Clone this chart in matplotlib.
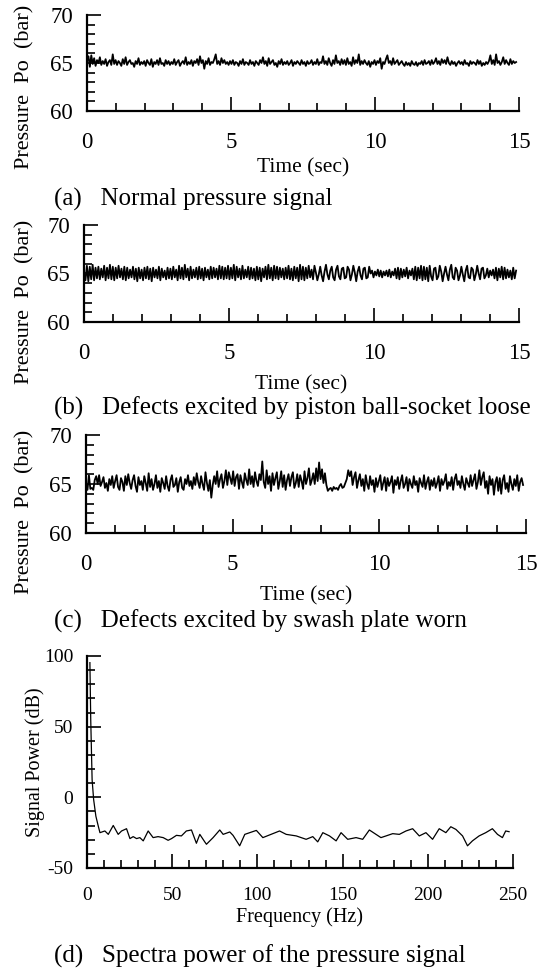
import numpy as np
import matplotlib
matplotlib.use("Agg")
import matplotlib.pyplot as plt
from matplotlib.ticker import MultipleLocator

plt.rcParams['font.family'] = ['Liberation Serif', 'DejaVu Serif']
plt.rcParams['axes.unicode_minus'] = False

# Outlet pressure Po (bar), one reading every 0.05 s
normal_po = [
    65.2, 65.7, 64.6, 65.8, 64.9, 65.5, 64.7, 65.3, 65.0, 65.6, 64.8, 65.2, 64.9, 65.4, 64.7, 65.1, 65.3, 64.8, 65.9, 64.9,
    65.3, 64.8, 65.2, 65.0, 64.7, 65.4, 64.9, 65.6, 64.8, 65.1, 65.3, 64.9, 65.0, 64.6, 65.2, 64.9, 65.5, 64.8, 65.1, 64.9,
    65.2, 64.7, 65.3, 65.0, 64.8, 65.4, 64.6, 65.1, 64.9, 65.3, 64.8, 65.5, 64.9, 65.0, 64.7, 65.3, 64.9, 65.2, 64.8, 65.1,
    64.9, 65.4, 64.8, 65.1, 65.3, 64.7, 65.0, 65.2, 64.9, 65.6, 64.8, 65.1, 64.9, 65.3, 64.7, 65.2, 65.0, 65.4, 64.8, 65.7,
    65.0, 65.3, 64.4, 65.2, 64.9, 65.5, 64.8, 65.1, 65.0, 65.4, 65.9, 64.9, 65.2, 64.8, 65.5, 65.0, 65.3, 64.9, 65.1, 64.8,
    65.2, 64.9, 65.3, 64.8, 65.1, 65.0, 64.7, 65.2, 64.9, 65.4, 64.8, 65.1, 65.0, 64.8, 65.3, 64.9, 65.1, 64.7, 65.2, 65.0,
    64.8, 65.3, 65.0, 65.6, 64.9, 65.2, 64.7, 65.5, 64.9, 65.1, 65.3, 64.8, 65.0, 64.6, 65.2, 64.9, 65.4, 64.8, 65.1, 64.9,
    65.2, 64.8, 65.0, 65.3, 64.7, 65.1, 64.9, 65.2, 65.0, 64.8, 65.3, 64.9, 65.1, 64.7, 65.2, 64.9, 65.0, 65.3, 64.8, 65.1,
    64.9, 65.4, 64.8, 65.1, 65.0, 65.7, 64.9, 65.2, 64.8, 65.5, 65.0, 64.7, 65.3, 64.9, 65.8, 65.0, 65.2, 64.8, 65.4, 64.9,
    65.3, 64.8, 65.5, 64.9, 65.1, 64.7, 65.6, 64.9, 65.3, 65.0, 65.9, 64.8, 65.2, 64.9, 65.3, 65.0, 64.8, 65.2, 64.6, 65.1,
    64.9, 65.3, 64.8, 65.2, 65.0, 65.5, 64.4, 65.1, 64.9, 65.4, 65.8, 65.0, 65.2, 64.8, 65.5, 64.9, 65.1, 65.3, 64.8, 65.0,
    65.2, 64.9, 64.7, 65.1, 64.8, 65.0, 64.7, 65.2, 64.9, 64.8, 65.1, 64.7, 65.0, 64.9, 65.2, 64.8, 65.3, 64.9, 65.0, 65.2,
    64.8, 65.3, 64.9, 65.1, 65.5, 64.9, 65.2, 64.8, 65.4, 65.0, 65.3, 64.9, 65.6, 65.0, 64.8, 65.2, 64.9, 65.1, 64.7, 65.0,
    65.2, 64.9, 65.1, 64.8, 65.3, 64.9, 65.0, 64.7, 65.2, 64.9, 65.1, 65.0, 64.8, 65.3, 64.9, 65.2, 64.7, 65.0, 64.8, 65.1,
    64.9, 65.2, 65.8, 64.9, 65.3, 64.8, 65.9, 65.0, 65.2, 64.8, 65.1, 65.6, 64.9, 65.3, 65.0, 64.8, 65.4, 64.9, 65.2, 65.0,
    65.1,
]

piston_po = [
    65.0, 64.3, 65.8, 64.2, 65.7, 64.4, 65.9, 64.3, 65.6, 64.5, 65.7, 64.4, 65.5, 64.6, 65.8, 64.3, 65.6, 64.5, 65.9, 64.4,
    65.7, 64.3, 65.6, 64.5, 65.8, 64.6, 65.5, 64.4, 65.7, 64.3, 65.6, 64.5, 65.4, 64.6, 65.7, 64.4, 65.5, 64.2, 65.6, 64.5,
    65.4, 64.3, 65.6, 64.5, 65.7, 64.4, 65.5, 64.2, 65.6, 64.6, 65.4, 64.5, 65.7, 64.3, 65.5, 64.6, 65.3, 64.4, 65.6, 64.5,
    65.5, 64.4, 65.7, 64.6, 65.4, 64.3, 65.8, 64.5, 65.6, 64.4, 65.9, 64.6, 65.5, 64.3, 65.7, 64.5, 65.4, 64.6, 65.6, 64.4,
    65.7, 64.5, 65.5, 64.3, 65.6, 64.6, 65.4, 64.4, 65.7, 64.5, 65.6, 64.6, 65.5, 64.4, 65.8, 64.5, 65.7, 64.4, 65.6, 64.5,
    65.8, 64.4, 65.6, 64.5, 65.9, 64.3, 65.7, 64.6, 65.5, 64.4, 65.8, 64.5, 65.4, 64.6, 65.7, 64.4, 65.6, 64.5, 65.5, 64.3,
    65.7, 64.4, 65.6, 64.2, 65.5, 64.6, 65.7, 64.4, 65.9, 64.5, 65.6, 64.3, 65.8, 64.5, 65.7, 64.4, 65.6, 64.6, 65.5, 64.4,
    65.6, 64.5, 65.8, 64.4, 65.5, 64.3, 65.7, 64.5, 65.6, 64.2, 65.9, 64.4, 65.7, 64.3, 65.6, 64.5, 65.8, 64.6, 65.4, 64.4,
    65.8, 65.1, 64.3, 64.9, 65.7, 64.8, 64.2, 65.2, 65.9, 64.9, 64.4, 65.3, 65.7, 64.6, 64.3, 65.4, 65.8, 64.7, 64.4, 65.5,
    65.6, 64.5, 64.6, 65.7, 65.4, 64.3, 64.9, 65.8, 65.1, 64.2, 65.2, 65.7, 64.8, 64.4, 65.5, 65.6, 64.5, 64.6, 65.7, 65.0,
    65.3, 64.6, 65.2, 64.8, 65.4, 64.7, 65.3, 64.6, 65.2, 64.8, 65.3, 64.7, 65.4, 64.6, 65.2, 64.8, 65.5, 64.5, 65.6, 64.4,
    65.5, 64.6, 65.4, 64.7, 65.6, 64.5, 65.3, 64.8, 65.5, 64.4, 65.7, 64.3, 65.6, 64.5, 65.8, 64.3, 65.7, 64.4, 65.6, 64.2,
    65.8, 64.7, 64.3, 65.5, 65.6, 64.4, 64.7, 65.8, 65.2, 64.2, 65.0, 65.7, 64.9, 64.3, 65.4, 65.9, 64.6, 64.4, 65.6, 65.3,
    64.3, 64.8, 65.7, 64.9, 64.2, 65.3, 65.8, 64.6, 64.5, 65.6, 65.4, 64.3, 64.9, 65.8, 65.0, 64.4, 65.5, 65.6, 64.5, 64.8,
    65.5, 64.6, 65.3, 64.8, 65.4, 64.5, 65.6, 64.3, 65.5, 64.6, 65.7, 64.4, 65.6, 64.5, 65.4, 64.6, 65.3, 64.4, 65.6, 64.5,
    65.3,
]

swash_po = [
    65.0, 64.4, 65.9, 64.5, 64.6, 64.4, 65.4, 65.8, 65.0, 65.9, 64.8, 65.2, 65.7, 64.6, 65.1, 64.3, 65.5, 64.9, 65.8, 64.6,
    65.3, 65.9, 64.7, 64.4, 65.6, 65.2, 64.3, 65.8, 64.9, 66.0, 65.1, 64.5, 65.4, 65.9, 64.8, 64.2, 65.7, 64.9, 65.3, 64.4,
    65.8, 65.1, 64.3, 66.1, 64.7, 65.5, 64.4, 65.0, 65.9, 64.6, 65.3, 64.2, 65.6, 65.1, 64.5, 65.8, 64.8, 64.3, 65.4, 65.9,
    64.7, 64.9, 65.6, 64.2, 65.2, 65.7, 64.6, 64.4, 65.5, 65.0, 65.9, 64.8, 65.3, 64.5, 65.7, 64.9, 66.1, 65.2, 64.6, 65.8,
    65.0, 64.4, 66.2, 65.1, 64.3, 65.4, 63.6, 64.9, 65.8, 65.0, 66.3, 64.7, 65.5, 66.0, 64.6, 65.3, 66.4, 64.9, 66.2, 65.6,
    65.0, 66.3, 64.8, 65.7, 66.0, 64.5, 65.9, 65.2, 64.6, 66.1, 65.4, 64.9, 66.5, 65.0, 65.8, 64.7, 66.2, 65.3, 64.8, 66.0,
    65.4, 67.3, 65.2, 64.6, 66.4, 65.0, 65.8, 64.3, 66.1, 64.9, 65.6, 66.2, 64.5, 65.3, 66.3, 64.7, 65.9, 64.4, 65.4, 66.0,
    64.8, 65.7, 66.2, 64.6, 65.1, 66.0, 64.7, 65.9, 65.3, 64.5, 66.3, 65.0, 65.6, 66.6, 64.9, 65.4, 66.1, 65.0, 66.6, 65.3,
    67.2, 65.5, 66.5, 65.1, 66.1, 64.9, 64.3, 64.5, 64.6, 64.3, 64.7, 64.5, 64.6, 64.4, 64.8, 65.0, 64.6, 64.7, 65.1, 65.5,
    66.4, 65.8, 66.3, 64.9, 65.7, 66.2, 64.6, 65.4, 66.0, 64.8, 65.5, 64.3, 65.9, 65.0, 64.5, 65.8, 64.9, 65.4, 64.2, 65.6,
    64.7, 65.3, 65.9, 64.4, 65.1, 65.7, 64.3, 65.6, 64.8, 65.2, 65.8, 64.1, 65.4, 64.9, 65.7, 64.5, 65.3, 65.9, 64.6, 65.0,
    65.7, 64.3, 65.5, 65.0, 64.6, 65.8, 64.9, 65.3, 64.2, 65.6, 65.1, 64.7, 65.9, 64.5, 65.2, 65.7, 64.4, 65.4, 64.8, 65.6,
    64.6, 65.1, 65.8, 64.3, 65.5, 64.9, 65.3, 66.0, 64.5, 65.2, 64.8, 65.7, 64.4, 65.5, 66.0, 64.9, 65.3, 64.6, 65.8, 65.0,
    64.4, 65.6, 65.1, 64.7, 65.9, 64.8, 65.4, 66.0, 64.5, 65.2, 66.4, 64.9, 65.7, 66.2, 64.6, 65.3, 64.0, 65.8, 64.9, 65.5,
    63.9, 65.2, 65.7, 64.3, 65.6, 64.0, 65.4, 65.9, 64.5, 65.1, 64.2, 65.8, 65.0, 64.4, 65.5, 64.8, 65.9, 64.3, 65.2, 65.6,
    64.9,
]

# Spectrum of the pressure signal
spec_freq = [1.7, 2.2, 3.0, 3.9, 5.2, 6.6, 7.6, 10.5, 12.5, 15.4, 18.3, 20.3, 23.2, 25.2, 27.1, 29.1,
             31.0, 33.0, 35.9, 38.8, 41.7, 44.7, 47.6, 49.6, 52.5, 55.4, 58.3, 61.3, 64.2, 66.2, 69.1,
             70.1, 74.0, 77.9, 79.9, 83.8, 85.7, 89.6, 92.6, 95.5, 99.4, 103.2, 113.0, 116.9, 122.8,
             128.6, 132.5, 135.4, 138.4, 142.3, 146.2, 149.1, 153.0, 157.9, 161.8, 165.7, 169.6, 172.5,
             175.5, 179.4, 183.3, 187.2, 191.1, 195.0, 198.9, 202.8, 206.7, 210.6, 213.5, 216.5, 220.4,
             223.3, 226.2, 230.1, 234.0, 237.9, 240.9, 243.8, 245.7, 247.7]
spec_db = [95.3, 54.4, 12.4, -1.6, -13.3, -20.3, -25.0, -23.8, -26.2, -19.9, -26.2, -23.8, -22.2, -29.2,
           -27.8, -29.2, -28.5, -30.8, -23.8, -28.5, -27.8, -28.5, -30.4, -29.2, -26.9, -27.3, -23.8,
           -23.1, -32.5, -26.2, -31.5, -33.2, -28.5, -23.1, -26.2, -24.5, -26.9, -34.3, -26.2, -25.0,
           -23.4, -28.5, -23.8, -26.2, -27.3, -29.7, -27.8, -31.5, -25.0, -27.3, -30.8, -25.0, -29.7,
           -28.5, -29.7, -23.1, -26.2, -28.5, -27.3, -25.7, -26.2, -23.8, -22.2, -27.3, -25.0, -29.7,
           -22.2, -25.0, -20.8, -22.7, -27.3, -34.3, -30.8, -27.3, -25.0, -22.2, -26.2, -28.5, -23.8, -24.3]

captions = ["(a)   Normal pressure signal",
            "(b)   Defects excited by piston ball-socket loose",
            "(c)   Defects excited by swash plate worn",
            "(d)   Spectra power of the pressure signal"]

W, H = 539, 968
fig = plt.figure(figsize=(W / 100, H / 100), dpi=100)


def px_box(l, t, r, b):
    return [l / W, 1 - b / H, (r - l) / W, (b - t) / H]


def fig_txt(x, y, s, **kw):
    fig.text(x / W, 1 - y / H, s, **kw)


def style_axes(ax, fs, xpad, ypad):
    for side in ["top", "right"]:
        ax.spines[side].set_visible(False)
    for side in ["left", "bottom"]:
        ax.spines[side].set_linewidth(1.6)
    ax.tick_params(which="both", direction="in", width=1.2, labelsize=fs)
    ax.tick_params(which="major", length=10)
    ax.tick_params(which="minor", length=6)
    ax.tick_params(axis="x", pad=xpad)
    ax.tick_params(axis="y", pad=ypad)


# (a)-(c): pressure traces, box = (left, top, right, bottom) in pixels
panels = [
    (normal_po, (87, 15, 519, 111), 168, 199, 24),
    (piston_po, (84, 225, 519, 322), 385, 408, 28),
    (swash_po, (86, 435, 526, 533), 596, 621, 28),
]

for (vals, box, xlab_y, cap_y, ylab_off), cap in zip(panels, captions[:3]):
    ax = fig.add_axes(px_box(*box))
    t = np.linspace(0, 14.9, len(vals))
    ax.plot(t, vals, color="black", lw=1.3)
    ax.set_xlim(0, 15)
    ax.set_ylim(60, 70)
    ax.set_xticks([0, 5, 10, 15])
    ax.set_yticks([60, 65, 70])
    ax.xaxis.set_minor_locator(MultipleLocator(1))
    ax.yaxis.set_minor_locator(MultipleLocator(1))
    style_axes(ax, 16.5, 15, 10)
    cx = (box[0] + box[2]) / 2
    fig_txt(cx, xlab_y, "Time (sec)", ha="center", va="center", fontsize=15.5)
    fig_txt(25, (box[1] + box[3]) / 2 + ylab_off, "Pressure  Po  (bar)", rotation=90,
            ha="center", va="center", fontsize=16)
    fig_txt(54, cap_y, cap, ha="left", va="center", fontsize=18)

# (d): spectrum
ax = fig.add_axes(px_box(87, 656, 513, 868))
ax.plot(spec_freq, spec_db, color="black", lw=0.9)
ax.set_xlim(0, 250)
ax.set_ylim(-50, 100)
ax.set_xticks([0, 50, 100, 150, 200, 250])
ax.set_yticks([-50, 0, 50, 100])
ax.xaxis.set_minor_locator(MultipleLocator(10))
ax.yaxis.set_minor_locator(MultipleLocator(10))
style_axes(ax, 14, 14, 10)
fig_txt(300, 917, "Frequency (Hz)", ha="center", va="center", fontsize=14.5)
fig_txt(35, 762, "Signal Power (dB)", rotation=90, ha="center", va="center", fontsize=14.5)
fig_txt(54, 956, captions[3], ha="left", va="center", fontsize=18)

fig.savefig("out.png", dpi=100)
